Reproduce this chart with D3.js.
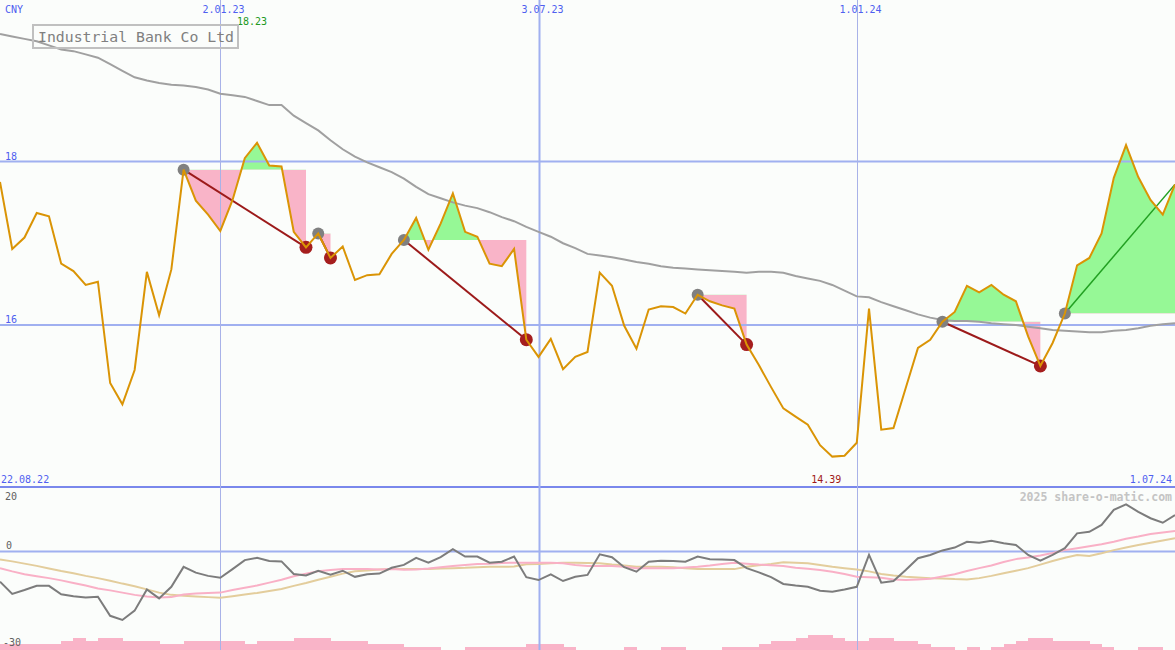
<!DOCTYPE html>
<html><head><meta charset="utf-8">
<script src="https://cdn.jsdelivr.net/npm/d3@7"></script>
<style>html,body{margin:0;padding:0;background:#fbfdfb;}svg{display:block;}</style>
</head><body><div id="chart"></div>
<script>
// ---- data ----
const startDate = "2022-08-29";
const weekCount = 97;
const price = [17.75,16.93,17.07,17.37,17.33,16.75,16.66,16.49,16.53,15.29,15.03,15.45,16.65,16.12,16.68,17.90,17.52,17.35,17.15,17.53,18.04,18.23,17.95,17.94,17.14,16.95,17.12,16.82,16.96,16.55,16.61,16.62,16.87,17.04,17.31,16.92,17.24,17.61,17.14,17.08,16.75,16.72,16.93,15.82,15.61,15.83,15.46,15.61,15.67,16.64,16.48,15.99,15.71,16.19,16.23,16.22,16.14,16.37,16.29,16.24,16.20,15.76,15.51,15.24,14.98,14.88,14.78,14.53,14.39,14.40,14.56,16.20,14.72,14.74,15.23,15.72,15.82,16.04,16.16,16.48,16.40,16.49,16.37,16.29,15.86,15.50,15.78,16.14,16.73,16.82,17.12,17.80,18.20,17.81,17.53,17.35,17.72];
const movingAvg = [19.56,19.53,19.50,19.47,19.42,19.37,19.35,19.31,19.27,19.19,19.11,19.03,18.99,18.96,18.94,18.93,18.91,18.88,18.83,18.81,18.79,18.74,18.69,18.69,18.56,18.47,18.38,18.26,18.15,18.06,17.99,17.93,17.87,17.79,17.69,17.60,17.55,17.50,17.46,17.43,17.38,17.32,17.27,17.20,17.14,17.08,17.00,16.94,16.87,16.85,16.83,16.80,16.77,16.75,16.72,16.70,16.69,16.68,16.67,16.66,16.65,16.64,16.65,16.65,16.64,16.60,16.57,16.54,16.49,16.42,16.35,16.34,16.28,16.23,16.18,16.13,16.09,16.06,16.05,16.05,16.04,16.02,16.01,16.00,15.98,15.96,15.94,15.93,15.92,15.91,15.91,15.93,15.94,15.96,15.99,16.01,16.02];
const momentum = [-9.4,-13.2,-12.0,-10.7,-10.7,-13.3,-13.9,-14.3,-14.1,-20.0,-21.3,-18.4,-11.8,-14.6,-11.0,-4.8,-6.6,-7.6,-8.2,-5.5,-2.7,-2.0,-3.0,-3.1,-7.0,-7.5,-6.0,-7.2,-6.0,-7.9,-7.1,-6.9,-5.1,-4.2,-2.0,-3.5,-1.8,0.7,-1.6,-1.6,-3.5,-3.2,-1.6,-8.0,-8.9,-7.1,-9.2,-7.9,-7.3,-0.9,-1.8,-4.9,-6.3,-3.2,-2.9,-3.0,-3.2,-1.6,-2.4,-2.5,-2.7,-5.2,-6.5,-8.0,-10.1,-10.6,-11.0,-12.2,-12.5,-11.8,-11.0,-1.1,-9.7,-9.2,-5.8,-2.1,-1.1,0.3,1.2,3.0,2.7,3.3,2.5,2.0,-1.1,-2.9,-1.1,1.0,5.6,6.1,8.2,12.9,14.6,12.3,10.3,8.9,11.3];
const signalFast = [-5.2,-6.2,-7.1,-7.7,-8.3,-9.0,-9.8,-10.6,-11.5,-12.1,-12.8,-13.5,-14.0,-14.3,-14.2,-13.4,-13.1,-12.9,-12.8,-12.0,-11.3,-10.6,-9.7,-8.8,-7.7,-6.9,-6.2,-5.8,-5.5,-5.5,-5.5,-5.6,-5.5,-5.7,-5.6,-5.3,-4.9,-4.5,-4.2,-3.9,-3.8,-3.6,-3.5,-3.5,-3.5,-3.5,-3.7,-4.2,-4.5,-4.5,-4.5,-4.8,-5.2,-5.2,-5.2,-5.2,-5.0,-4.8,-4.4,-3.9,-3.5,-3.8,-4.1,-4.3,-4.5,-5.1,-5.4,-5.8,-6.3,-7.0,-7.9,-8.0,-8.2,-8.7,-8.9,-8.7,-8.5,-7.8,-7.1,-6.1,-5.2,-4.4,-3.3,-2.4,-1.9,-1.3,-0.5,0.4,1.0,1.6,2.2,3.0,3.9,4.6,5.4,5.9,6.3];
const signalSlow = [-2.5,-3.1,-3.8,-4.5,-5.3,-6.1,-6.8,-7.6,-8.3,-9.1,-10.0,-10.8,-11.8,-12.8,-13.5,-13.8,-14.0,-14.2,-14.4,-13.9,-13.4,-12.9,-12.3,-11.7,-10.7,-9.8,-8.8,-7.9,-6.9,-6.2,-5.9,-5.6,-5.5,-5.5,-5.5,-5.5,-5.3,-5.2,-5.1,-4.9,-4.8,-4.8,-4.7,-4.0,-3.9,-3.7,-3.5,-3.5,-3.6,-3.7,-4.1,-4.4,-4.8,-4.8,-4.8,-4.9,-5.2,-5.5,-5.5,-5.5,-5.5,-4.8,-4.3,-3.9,-3.4,-3.5,-3.7,-4.2,-4.8,-5.2,-5.6,-6.2,-7.0,-7.5,-7.9,-8.1,-8.3,-8.4,-8.6,-8.7,-8.3,-7.6,-6.8,-6.0,-5.2,-4.1,-3.0,-2.0,-1.1,-1.4,-0.6,0.4,1.2,2.0,2.7,3.4,4.1];
const volume = [2,2,2,2,2,3,4,3,4,4,3,3,3,2,2,3,3,3,3,3,2,3,3,3,4,4,4,3,3,3,2,2,2,1,1,1,0,0,1,1,1,1,1,2,2,2,1,0,0,0,0,1,0,0,1,1,0,0,0,1,1,1,2,3,3,4,5,5,4,3,3,4,4,3,3,2,1,1,0,1,0,1,2,3,4,4,3,3,3,2,1,0,0,1,1,0];
const tradeStart = [15,26,33,57,77,87];
const tradeEnd   = [25,27,43,61,85,96];
const tradeOpen  = [false,false,false,false,false,true];
const gridDates = ["2023-01-02","2023-07-03","2024-01-01"];
const gridDateLabels = ["2.01.23","3.07.23","1.01.24"];
const priceTicks = [18,16];
const lowTicks = [20,0,-30];
const title = "Industrial Bank Co Ltd";
const currency = "CNY";
const rangeStartLabel = "22.08.22";
const rangeEndLabel = "1.07.24";
const copyright = "2025 share-o-matic.com";

// ---- layout ----
const W = 1175, H = 650;
const parse = d3.utcParse("%Y-%m-%d");
const t0 = parse(startDate);
const dates = d3.range(weekCount).map(i => d3.utcDay.offset(t0, 7*i));
const x = d3.scaleUtc().domain([dates[0], dates[dates.length-1]]).range([0, W]);
const y = d3.scaleLinear().domain([14, 20]).range([488.5, -2]);
const yLow = d3.scaleLinear().domain([20, -30]).range([487, 648]);
const yVol = d3.scaleLinear().domain([0, 5]).range([650, 634.5]);

const mono = "'DejaVu Sans Mono', 'Liberation Mono', monospace";
const blue = "#4f5ff0";
const svg = d3.select("#chart").append("svg").attr("width", W).attr("height", H)
  .style("background", "#fbfdfb");

// volume bars
svg.append("g").selectAll("rect").data(volume).join("rect")
  .attr("x", (d,i) => x(dates[i]))
  .attr("width", (d,i) => x(dates[i+1]) - x(dates[i]) + 0.5)
  .attr("y", d => yVol(d))
  .attr("height", d => yVol(0) - yVol(d))
  .attr("fill", "#f9b4c8").attr("shape-rendering", "crispEdges");

// trade fills
const defs = svg.append("defs");
const gFill = svg.append("g");
tradeStart.forEach((s, k) => {
  const e = tradeEnd[k];
  const level = price[s];
  const idx = d3.range(s, e+1);
  const area = d3.area().x(i => x(dates[i])).y0(y(level)).y1(i => y(price[i]));
  defs.append("clipPath").attr("id", "up"+k).append("rect")
    .attr("x", 0).attr("y", 0).attr("width", W).attr("height", y(level));
  defs.append("clipPath").attr("id", "dn"+k).append("rect")
    .attr("x", 0).attr("y", y(level)).attr("width", W).attr("height", H - y(level));
  gFill.append("path").attr("d", area(idx)).attr("fill", "#96f896").attr("clip-path", `url(#up${k})`);
  gFill.append("path").attr("d", area(idx)).attr("fill", "#f9b4c8").attr("clip-path", `url(#dn${k})`);
});

// grid lines
const gGrid = svg.append("g");
priceTicks.forEach(v => {
  gGrid.append("line").attr("x1", 0).attr("x2", W).attr("y1", y(v)).attr("y2", y(v))
    .attr("stroke", "#a0b0f0").attr("stroke-width", 2);
});
gGrid.append("line").attr("x1", 0).attr("x2", W).attr("y1", 487).attr("y2", 487)
  .attr("stroke", "#7a88ec").attr("stroke-width", 2);
gGrid.append("line").attr("x1", 0).attr("x2", W).attr("y1", yLow(0)).attr("y2", yLow(0))
  .attr("stroke", "#a0b0f0").attr("stroke-width", 2);
gridDates.forEach((d, k) => {
  const xv = Math.round(x(parse(d))) + 0.5;
  gGrid.append("line").attr("x1", xv).attr("x2", xv).attr("y1", 0).attr("y2", H)
    .attr("stroke", k === 1 ? "#a0b0f0" : "#a8b2e8").attr("stroke-width", k === 1 ? 2 : 1);
  svg.append("text").attr("x", xv + 3).attr("y", 13).attr("text-anchor", "middle")
    .attr("font-family", mono).attr("font-size", 10).attr("fill", blue).text(gridDateLabels[k]);
});

// moving average
const line = d3.line().x((d,i) => x(dates[i])).y(d => y(d));
svg.append("path").attr("d", line(movingAvg)).attr("fill", "none")
  .attr("stroke", "#a0a0a0").attr("stroke-width", 2);

// lower panel lines
const lowLine = d3.line().x((d,i) => x(dates[i])).y(d => yLow(d));
svg.append("path").attr("d", lowLine(signalSlow)).attr("fill", "none").attr("stroke", "#e3cd9c").attr("stroke-width", 2);
svg.append("path").attr("d", lowLine(signalFast)).attr("fill", "none").attr("stroke", "#f9b0c6").attr("stroke-width", 2);
svg.append("path").attr("d", lowLine(momentum)).attr("fill", "none").attr("stroke", "#7c7c7c").attr("stroke-width", 2);

// trade lines and markers
tradeStart.forEach((s, k) => {
  const e = tradeEnd[k];
  svg.append("line").attr("x1", x(dates[s])).attr("y1", y(price[s]))
    .attr("x2", x(dates[e])).attr("y2", y(price[e]))
    .attr("stroke", tradeOpen[k] ? "#22a022" : "#9c1a1a").attr("stroke-width", tradeOpen[k] ? 1.5 : 2);
});
tradeStart.forEach((s, k) => {
  const e = tradeEnd[k];
  svg.append("circle").attr("cx", x(dates[s])).attr("cy", y(price[s])).attr("r", 6).attr("fill", "#808080");
  if (!tradeOpen[k]) svg.append("circle").attr("cx", x(dates[e])).attr("cy", y(price[e])).attr("r", 6.5).attr("fill", "#a51e1e");
});

// price line
svg.append("path").attr("d", line(price)).attr("fill", "none")
  .attr("stroke", "#da9405").attr("stroke-width", 2).attr("stroke-linejoin", "miter");

// labels
const txt = (tx, ty, s, opt={}) => svg.append("text").attr("x", tx).attr("y", ty)
  .attr("font-family", mono).attr("font-size", opt.size || 10).attr("fill", opt.fill || blue)
  .attr("text-anchor", opt.anchor || "start").attr("font-weight", opt.weight || "normal").text(s);

txt(5, 13, currency);
priceTicks.forEach(v => txt(5, y(v) - 2, String(v)));
txt(1, 483, rangeStartLabel);
txt(1172, 483, rangeEndLabel, {anchor: "end"});
txt(1172, 500.5, copyright, {anchor: "end", fill: "#c4c4c4", size: 11.5, weight: "bold"});
txt(5, yLow(lowTicks[0]) + 12.5, String(lowTicks[0]), {fill: "#606060"});
txt(6, yLow(lowTicks[1]) - 2, String(lowTicks[1]), {fill: "#606060"});
txt(3, yLow(lowTicks[2]) - 2, String(lowTicks[2]), {fill: "#606060"});

const iMax = d3.maxIndex(price), iMin = d3.minIndex(price);
txt(x(dates[iMax]) - 5, 25, price[iMax].toFixed(2), {anchor: "middle", fill: "#229922"});
txt(x(dates[iMin]) - 6, 483, price[iMin].toFixed(2), {anchor: "middle", fill: "#a01818"});

// title box
svg.append("rect").attr("x", 33).attr("y", 25).attr("width", 205).attr("height", 23)
  .attr("fill", "none").attr("stroke", "#c0c0c0").attr("stroke-width", 2);
txt(38, 42, title, {size: 14.8, fill: "#808080"});
</script></body></html>
